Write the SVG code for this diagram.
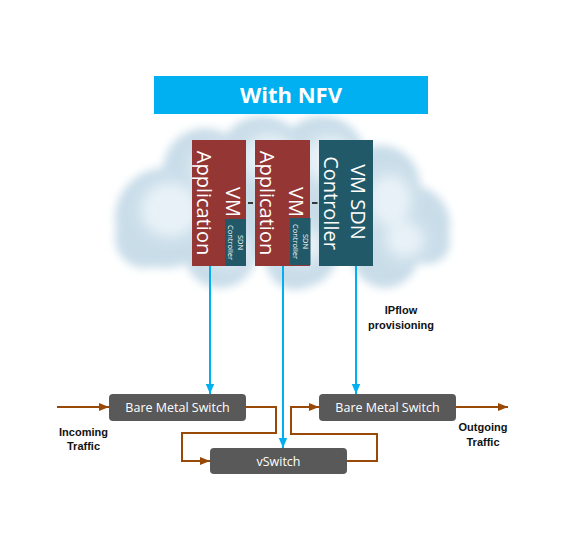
<svg xmlns="http://www.w3.org/2000/svg" width="572" height="554" viewBox="0 0 572 554">
<defs>
<style>
.vm{fill:#943634}
.sdn{fill:#215968}
.sw{fill:#595959}
.vt{font-family:"Open Sans","DejaVu Sans",sans-serif;font-size:20px;fill:#fff;text-anchor:middle}
.st{font-family:"Open Sans","DejaVu Sans",sans-serif;font-size:7.5px;fill:#fff;text-anchor:middle}
.swt{font-family:"Open Sans","DejaVu Sans",sans-serif;font-size:12.5px;fill:#fff;text-anchor:middle}
.lbl{font-family:"Liberation Sans",Arial,sans-serif;font-size:11px;font-weight:bold;fill:#111;text-anchor:middle}
.blue{fill:none;stroke:#00B0F0;stroke-width:2}
.brown{fill:none;stroke:#984807;stroke-width:2}
</style>
<marker id="ab" markerUnits="userSpaceOnUse" markerWidth="10" markerHeight="10" viewBox="0 0 10 10" refX="10" refY="5" orient="auto">
<path d="M0,0.8 L10,5 L0,9.2 Z" fill="#00B0F0"/>
</marker>
<marker id="ar" markerUnits="userSpaceOnUse" markerWidth="10" markerHeight="10" viewBox="0 0 10 10" refX="10" refY="5" orient="auto">
<path d="M0,1 L10,5 L0,9 Z" fill="#984807"/>
</marker>
<filter id="blur" x="-20%" y="-20%" width="140%" height="140%">
<feGaussianBlur stdDeviation="4"/>
</filter>
<filter id="blur2" x="-30%" y="-30%" width="160%" height="160%">
<feGaussianBlur stdDeviation="7"/>
</filter>
</defs>

<g id="cloud">
<g filter="url(#blur)" fill="#c9dde9">
<circle cx="165" cy="218" r="50"/>
<circle cx="205" cy="170" r="42"/>
<circle cx="262" cy="160" r="44"/>
<circle cx="322" cy="160" r="44"/>
<circle cx="380" cy="185" r="40"/>
<circle cx="410" cy="225" r="40"/>
<circle cx="385" cy="255" r="33"/>
<circle cx="300" cy="250" r="38"/>
<circle cx="220" cy="252" r="36"/>
<circle cx="145" cy="238" r="30"/>
<circle cx="428" cy="242" r="22"/>
<circle cx="295" cy="262" r="28"/>
<circle cx="290" cy="205" r="60"/>
</g>
<g filter="url(#blur2)" fill="#eef5fa" opacity="0.85">
<ellipse cx="170" cy="210" rx="30" ry="28"/>
<ellipse cx="215" cy="168" rx="24" ry="22"/>
<ellipse cx="270" cy="158" rx="26" ry="24"/>
<ellipse cx="330" cy="160" rx="26" ry="24"/>
<ellipse cx="390" cy="200" rx="22" ry="26"/>
<ellipse cx="405" cy="240" rx="20" ry="18"/>
<ellipse cx="230" cy="250" rx="20" ry="16"/>
<ellipse cx="300" cy="245" rx="24" ry="18"/>
</g>
</g>

<g id="title">
<rect x="154" y="76" width="274" height="38" fill="#00B0F0"/>
<text x="291" y="103" font-family="'Open Sans','DejaVu Sans',sans-serif" font-size="22" font-weight="bold" fill="#fff" text-anchor="middle">With NFV</text>
</g>

<g id="vm-app-1">
<rect class="vm" x="192" y="140" width="54" height="126"/>
<text class="vt" transform="translate(225.5,202) rotate(90)">VM</text>
<text class="vt" transform="translate(197,203) rotate(90)">Application</text>
</g>
<g id="sdn-ctrl-1">
<rect class="sdn" x="225" y="219" width="21" height="47"/>
<text class="st" transform="translate(237.5,242.5) rotate(90)">SDN</text>
<text class="st" transform="translate(227.5,242.5) rotate(90)">Controller</text>
</g>

<g id="vm-app-2">
<rect class="vm" x="255" y="140" width="55" height="126"/>
<text class="vt" transform="translate(288.5,202) rotate(90)">VM</text>
<text class="vt" transform="translate(260,203) rotate(90)">Application</text>
</g>
<g id="sdn-ctrl-2">
<rect class="sdn" x="290" y="218" width="20.5" height="47"/>
<text class="st" transform="translate(302.5,241.5) rotate(90)">SDN</text>
<text class="st" transform="translate(292.5,241.5) rotate(90)">Controller</text>
</g>

<g id="vm-sdn">
<rect class="sdn" x="319" y="140" width="54" height="126"/>
<text class="vt" transform="translate(351,202) rotate(90)">VM SDN</text>
<text class="vt" transform="translate(323.5,203) rotate(90)">Controller</text>
</g>

<g id="bms-1">
<rect class="sw" x="109" y="394" width="137" height="27" rx="4"/>
<text class="swt" x="177.5" y="412">Bare Metal Switch</text>
</g>
<g id="vswitch">
<rect class="sw" x="210" y="448" width="137" height="26" rx="4"/>
<text class="swt" x="278.5" y="465.5">vSwitch</text>
</g>
<g id="bms-2">
<rect class="sw" x="319" y="394" width="137" height="27" rx="4"/>
<text class="swt" x="387.5" y="412">Bare Metal Switch</text>
</g>

<g id="connectors">
<line x1="248" y1="203" x2="253" y2="203" stroke="#000" stroke-width="1.5"/>
<line x1="312" y1="203" x2="317.5" y2="203" stroke="#000" stroke-width="1.5"/>
<path class="blue" d="M210,266 V394" marker-end="url(#ab)"/>
<path class="blue" d="M283,266 V448" marker-end="url(#ab)"/>
<path class="blue" d="M356,266 V394" marker-end="url(#ab)"/>
<path class="brown" d="M57,407 H109" marker-end="url(#ar)"/>
<path class="brown" d="M246,407 H276 V433 H182 V461 H210" marker-end="url(#ar)"/>
<path class="brown" d="M347,461 H377 V434 H291 V407 H319" marker-end="url(#ar)"/>
<path class="brown" d="M456,407 H508" marker-end="url(#ar)"/>
</g>

<g id="labels">
<text class="lbl" x="401" y="314">IPflow</text>
<text class="lbl" x="401" y="329">provisioning</text>
<text class="lbl" x="83.5" y="435.5">Incoming</text>
<text class="lbl" x="83.5" y="449.5">Traffic</text>
<text class="lbl" x="483" y="430.5">Outgoing</text>
<text class="lbl" x="483" y="445.5">Traffic</text>
</g>
</svg>
